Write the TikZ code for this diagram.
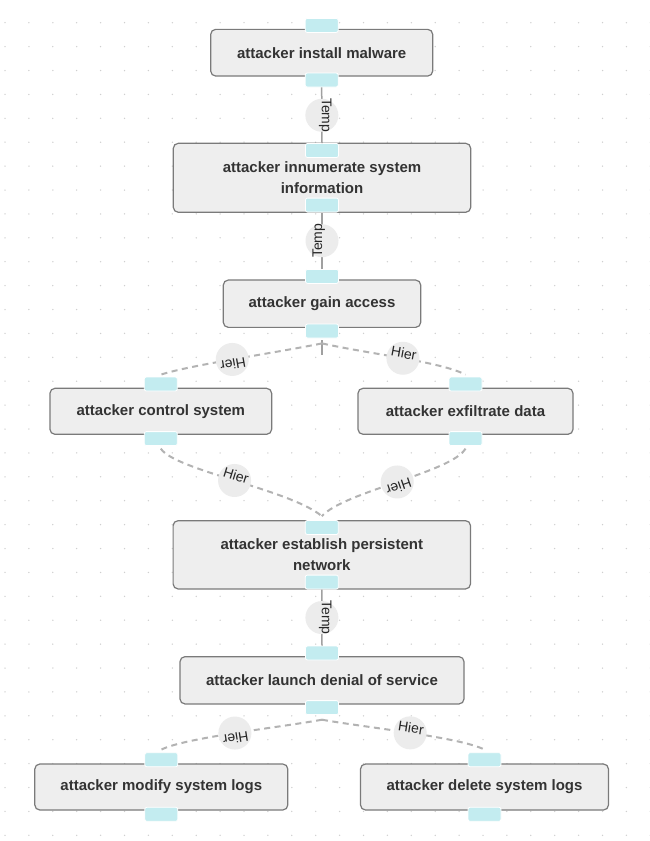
\documentclass[tikz,border=0pt]{standalone}
\usepackage{fontspec}
\setmainfont{Liberation Sans}
\usetikzlibrary{calc}
\definecolor{boxfill}{HTML}{EEEEEE}
\definecolor{boxline}{HTML}{7A7A7A}
\definecolor{portfill}{HTML}{C3ECF0}
\definecolor{txt}{HTML}{333333}
\definecolor{edgegray}{HTML}{A0A0A0}
\definecolor{dashgray}{HTML}{B3B3B3}
\definecolor{lblfill}{HTML}{ECECEC}
\definecolor{dotgray}{HTML}{CFCFCF}
\begin{document}
\begin{tikzpicture}[x=1pt,y=-1pt,
 box/.style={draw=boxline, line width=1.2pt, fill=boxfill, rounded corners=5pt, inner sep=0pt, align=center, font=\fontsize{15}{21}\selectfont\bfseries, text=txt},
 port/.style={fill=portfill, draw=white, line width=0.8pt, rounded corners=2pt, minimum width=33pt, minimum height=14pt, inner sep=0pt},
 temp/.style={draw=edgegray, line width=1.5pt},
 hier/.style={draw=dashgray, line width=2pt, dash pattern=on 6pt off 4.5pt},
 lblbg/.style={circle, fill=lblfill, minimum size=33pt, inner sep=0pt},
 lbltxt/.style={font=\fontsize{14}{14}\selectfont, text=black!85, inner sep=0pt, anchor=base, sloped, allow upside down},
]
\useasboundingbox (0,0) rectangle (650,841);
\fill[white] (0,0) rectangle (650,841);
\foreach \i in {0,...,27}{\foreach \j in {0,...,35}{\fill[dotgray] ({5+23.9*\i},{-1.2+23.9*\j}) circle (0.75pt);}}

% boxes
\node[box, minimum width=222pt, minimum height=46.7pt] (A) at (321.7,52.7) {attacker install malware};
\node[box, minimum width=297.4pt, minimum height=69pt] (B) at (322,177.8) {attacker innumerate system\\information};
\node[box, minimum width=197.4pt, minimum height=47.3pt] (C) at (322,303.7) {attacker gain access};
\node[box, minimum width=221.7pt, minimum height=46pt] (D) at (160.8,411.3) {attacker control system};
\node[box, minimum width=215pt, minimum height=46pt] (E) at (465.5,411.3) {attacker exfiltrate data};
\node[box, minimum width=297.4pt, minimum height=68.3pt] (F) at (321.8,554.8) {attacker establish persistent\\network};
\node[box, minimum width=284pt, minimum height=47.3pt] (G) at (322,680.3) {attacker launch denial of service};
\node[box, minimum width=253pt, minimum height=46pt] (H) at (161.3,787) {attacker modify system logs};
\node[box, minimum width=248pt, minimum height=46pt] (I) at (484.5,787) {attacker delete system logs};

% ports
\foreach \n in {A,B,C,D,E,F,G,H,I}{
  \path (\n.center) ++(0,-27.3) node[port] (\n t) {};
  \path (\n.center) ++(0,27.3) node[port] (\n b) {};
}

% Temp edges
\draw[temp] (Ab.south) -- (Bt.north) node[midway, lblbg]{} node[midway, lbltxt]{Temp};
\draw[temp] (Ct.north) -- (Bb.south) node[midway, lblbg]{} node[midway, lbltxt]{Temp};
\draw[temp] (Fb.south) -- (Gt.north) node[midway, lblbg]{} node[midway, lbltxt]{Temp};

% tick under gain access
\draw[temp] ($(Cb.south)+(0,2)$) -- ++(0,15);

% Hier edges
\draw[hier] ($(Cb.south)+(0,5)$) .. controls +(-56.4,11.2) and +(32,-10) .. ($(Dt.north)+(0,-2)$)
  node[pos=.5, lblbg]{} node[pos=.5, lbltxt]{Hier};
\draw[hier] ($(Cb.south)+(0,5)$) .. controls +(50,11) and +(-25.5,-13) .. ($(Et.north)+(0,-2)$)
  node[pos=.5, lblbg]{} node[pos=.5, lbltxt]{Hier};
\draw[hier] ($(Db.south)+(0,2.6)$) .. controls +(14,21.7) and +(-32,-26.7) .. ($(Ft.north)+(0,-4)$)
  node[pos=.5, lblbg]{} node[pos=.5, lbltxt]{Hier};
\draw[hier] ($(Eb.south)+(0,2.6)$) .. controls +(-13.5,23.7) and +(23,-24.7) .. ($(Ft.north)+(0,-4)$)
  node[pos=.5, lblbg]{} node[pos=.5, lbltxt]{Hier};
\draw[hier] ($(Gb.south)+(0,4.7)$) .. controls +(-42,7.7) and +(24,-12) .. ($(Ht.north)+(0,-2.7)$)
  node[pos=.5, lblbg]{} node[pos=.5, lbltxt]{Hier};
\draw[hier] ($(Gb.south)+(0,4.7)$) .. controls +(43,7.7) and +(-24.5,-12.5) .. ($(It.north)+(0,-2.7)$)
  node[pos=.5, lblbg]{} node[pos=.5, lbltxt]{Hier};
\end{tikzpicture}
\end{document}
